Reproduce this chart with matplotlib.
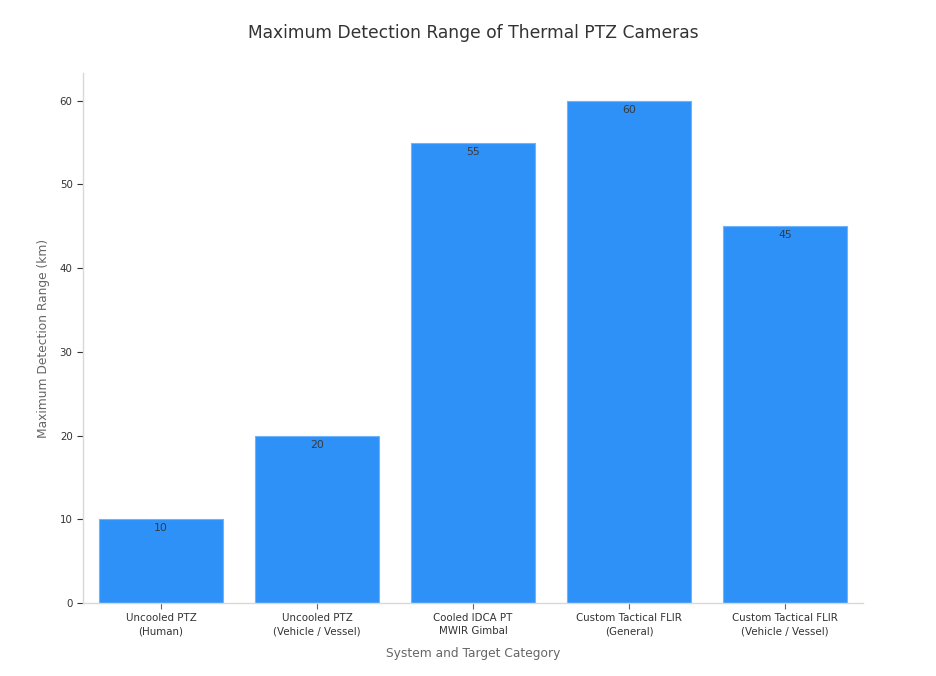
import matplotlib.pyplot as plt

categories = ['Uncooled PTZ\n(Human)', 'Uncooled PTZ\n(Vehicle / Vessel)', 'Cooled IDCA PT\nMWIR Gimbal',
              'Custom Tactical FLIR\n(General)', 'Custom Tactical FLIR\n(Vehicle / Vessel)']
ranges_km = [10, 20, 55, 60, 45]
y_ticks = [0, 10, 20, 30, 40, 50, 60]

fig = plt.figure(figsize=(9.36, 6.76), dpi=100)
ax = fig.add_axes([0.0887, 0.108, 0.8333, 0.784])

x = list(range(len(categories)))
bars = ax.bar(x, ranges_km, width=0.8, color='#2e91f8', edgecolor='#6fb3fa', linewidth=0.8)

# value labels just inside the top of each bar
for rect, val in zip(bars, ranges_km):
    ax.annotate(f'{val}', xy=(rect.get_x() + rect.get_width() / 2, rect.get_height()),
                xytext=(0, -3), textcoords='offset points', ha='center', va='top',
                fontsize=7.8, color='#3a3a3a')

ax.set_xlim(-0.5, 4.5)
ax.set_ylim(0, 63.3)
ax.set_xticks(x)
ax.set_xticklabels(categories, fontsize=7.4, color='#333333', linespacing=1.35)
ax.set_yticks(y_ticks)
ax.tick_params(axis='y', labelsize=7.4, colors='#333333', length=4, width=0.8)
ax.tick_params(axis='x', length=4, width=0.8, colors='#666666', labelcolor='#333333')

for side in ['top', 'right']:
    ax.spines[side].set_visible(False)
for side in ['left', 'bottom']:
    ax.spines[side].set_color('#d8d8d8')
    ax.spines[side].set_linewidth(1)

ax.set_xlabel('System and Target Category', fontsize=8.8, color='#666666', labelpad=7.5)
ax.set_ylabel('Maximum Detection Range (km)', fontsize=8.8, color='#666666', labelpad=7)
ax.set_title('Maximum Detection Range of Thermal PTZ Cameras', fontsize=12.3, color='#333333', pad=25)

plt.savefig('out.png', dpi=100)
